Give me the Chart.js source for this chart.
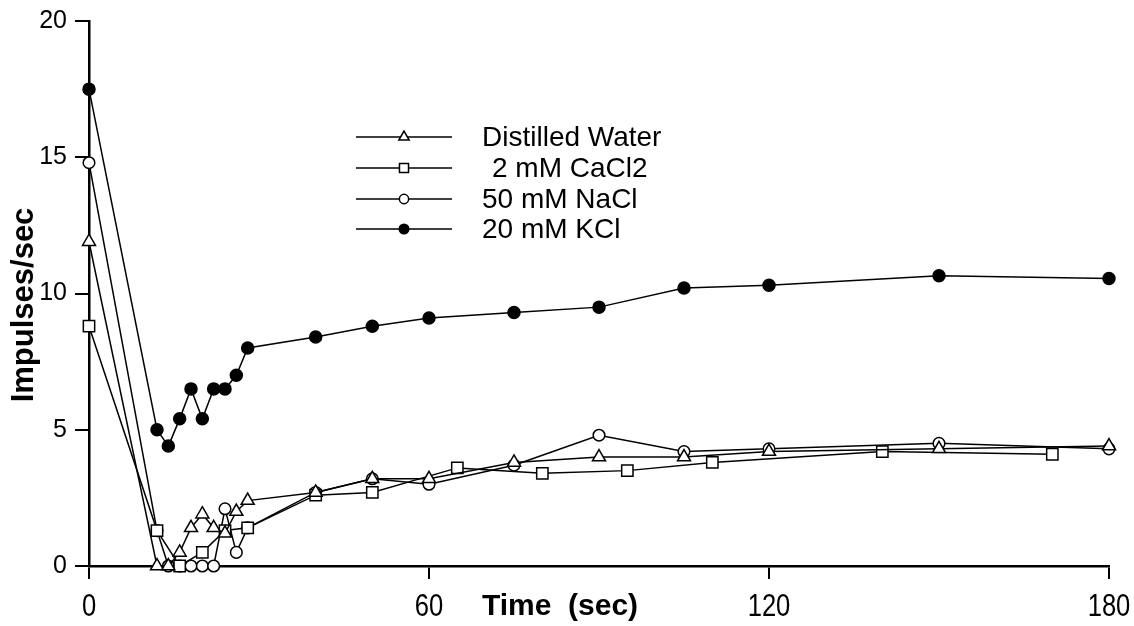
<!DOCTYPE html>
<html>
<head>
<meta charset="utf-8">
<script src="https://cdn.jsdelivr.net/npm/chart.js@4/dist/chart.umd.min.js"></script>
<style>
  body { margin: 0; background: #fff; }
</style>
</head>
<body>
<canvas id="impulseChart" width="1134" height="626"></canvas>
<script>
// sampling times (sec)
const timesMain = [0, 12, 14, 16, 18, 20, 22, 24, 26, 28, 40, 50, 60, 75, 90, 105, 120, 150, 180];
const timesCaCl2 = [0, 12, 16, 20, 24, 28, 40, 50, 65, 80, 95, 110, 140, 170];

// impulses/sec
const distilledWater = [11.9, 0, 0, 0.5, 1.4, 1.9, 1.4, 1.2, 2.0, 2.4, 2.7, 3.2, 3.2, 3.8, 4.0, 4.0, 4.2, 4.3, 4.4];
const cacl2 = [8.8, 1.3, 0, 0.5, 1.3, 1.4, 2.6, 2.7, 3.6, 3.4, 3.5, 3.8, 4.2, 4.1];
const nacl = [14.8, 1.3, 0, 0, 0, 0, 0, 2.1, 0.5, 1.4, 2.7, 3.2, 3.0, 3.7, 4.8, 4.2, 4.3, 4.5, 4.3];
const kcl = [17.5, 5.0, 4.4, 5.4, 6.5, 5.4, 6.5, 6.5, 7.0, 8.0, 8.4, 8.8, 9.1, 9.3, 9.5, 10.2, 10.3, 10.65, 10.55];

const seriesLabels = ['Distilled Water', '2 mM CaCl2', '50 mM NaCl', '20 mM KCl'];
const xTicks = [0, 60, 120, 180];
const yTicks = [0, 5, 10, 15, 20];

function toPoints(xs, ys) {
    return xs.map((x, i) => ({ x: x, y: ys[i] }));
}

function makeSet(label, xs, ys, style, radius, fill) {
    return {
        label: label,
        data: toPoints(xs, ys),
        borderColor: '#000',
        borderWidth: 1.5,
        pointStyle: style,
        pointRadius: radius,
        pointBorderWidth: 1.5,
        pointBorderColor: '#000',
        pointBackgroundColor: fill,
        tension: 0,
        clip: false
    };
}

// legend drawn inside the plot, line + marker + text
const insideLegend = {
    id: 'insideLegend',
    afterDraw(chart) {
        const ctx = chart.ctx;
        const rows = [137, 168, 199, 229];
        const indent = [0, 10, 0, 0];
        ctx.save();
        chart.data.datasets.forEach((ds, i) => {
            const y = rows[i];
            ctx.strokeStyle = '#000';
            ctx.lineWidth = 1.5;
            ctx.beginPath();
            ctx.moveTo(356, y);
            ctx.lineTo(452, y);
            ctx.stroke();
            ctx.fillStyle = ds.pointBackgroundColor;
            ctx.strokeStyle = '#000';
            ctx.lineWidth = 1.5;
            Chart.helpers.drawPoint(ctx, {
                pointStyle: ds.pointStyle,
                radius: ds.pointRadius * 0.8,
                rotation: 0,
                borderWidth: 1.5
            }, 404, y);
            ctx.fillStyle = '#000';
            ctx.font = '28px "Liberation Sans", Arial, sans-serif';
            ctx.textAlign = 'left';
            ctx.textBaseline = 'middle';
            ctx.fillText(ds.label, 482 + indent[i], y + 1);
        });
        ctx.restore();
    }
};

// condensed x tick labels and axis titles, placed like the original figure
const axisText = {
    id: 'axisText',
    afterDraw(chart) {
        const ctx = chart.ctx;
        const xScale = chart.scales.x;
        ctx.save();
        ctx.fillStyle = '#000';
        ctx.textAlign = 'center';
        ctx.textBaseline = 'middle';
        ctx.font = '32px "Liberation Sans", Arial, sans-serif';
        xScale.ticks.forEach(t => {
            const px = xScale.getPixelForValue(t.value);
            ctx.save();
            ctx.translate(px, 607);
            ctx.scale(0.8, 1);
            ctx.fillText(String(t.value), 0, 0);
            ctx.restore();
        });
        ctx.font = 'bold 30px "Liberation Sans", Arial, sans-serif';
        ctx.fillText('Time  (sec)', 560, 607);
        ctx.translate(24, 305);
        ctx.rotate(-Math.PI / 2);
        ctx.font = 'bold 31px "Liberation Sans", Arial, sans-serif';
        ctx.fillText('Impulses/sec', 0, 0);
        ctx.restore();
    }
};

const ctx = document.getElementById('impulseChart').getContext('2d');
const chart = new Chart(ctx, {
    type: 'line',
    data: {
        datasets: [
            makeSet(seriesLabels[0], timesMain, distilledWater, 'triangle', 7.5, '#fff'),
            makeSet(seriesLabels[1], timesCaCl2, cacl2, 'rect', 8, '#fff'),
            makeSet(seriesLabels[2], timesMain, nacl, 'circle', 5.8, '#fff'),
            makeSet(seriesLabels[3], timesMain, kcl, 'circle', 6, '#000')
        ]
    },
    options: {
        responsive: false,
        animation: false,
        layout: {
            padding: { top: 21, right: 25, left: 0, bottom: 0 }
        },
        scales: {
            x: {
                type: 'linear',
                min: 0,
                max: 180,
                afterFit: function (scale) {
                    scale.height = 60;
                    scale.paddingLeft = 0;
                    scale.paddingRight = 0;
                },
                afterBuildTicks: function (scale) {
                    scale.ticks = xTicks.map(v => ({ value: v }));
                },
                border: { display: true, color: '#000', width: 2.5 },
                grid: {
                    display: true,
                    drawOnChartArea: false,
                    drawTicks: true,
                    tickLength: 13,
                    color: '#000',
                    lineWidth: 2
                },
                ticks: {
                    display: false
                }
            },
            y: {
                min: 0,
                max: 20,
                afterFit: function (scale) {
                    scale.width = 89;
                    scale.paddingTop = 0;
                    scale.paddingBottom = 0;
                },
                afterBuildTicks: function (scale) {
                    scale.ticks = yTicks.map(v => ({ value: v }));
                },
                border: { display: true, color: '#000', width: 2.5 },
                grid: {
                    display: true,
                    drawOnChartArea: false,
                    drawTicks: true,
                    tickLength: 14,
                    color: '#000',
                    lineWidth: 2
                },
                ticks: {
                    color: '#000',
                    padding: 8,
                    font: { family: '"Liberation Sans", Arial, sans-serif', size: 25 }
                }
            }
        },
        plugins: {
            legend: { display: false },
            tooltip: { enabled: false }
        }
    },
    plugins: [insideLegend, axisText]
});
</script>
</body>
</html>
